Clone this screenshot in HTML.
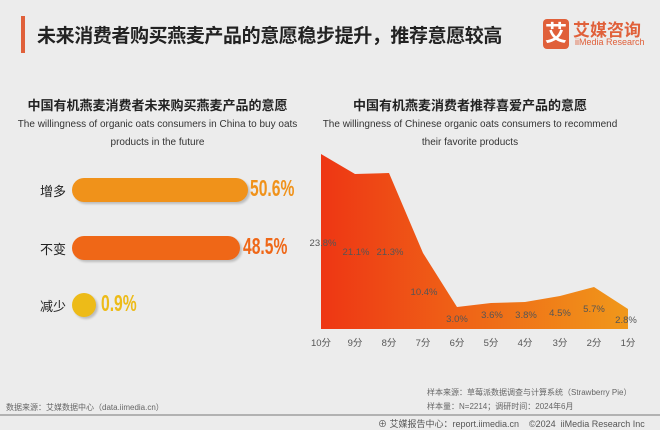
<!DOCTYPE html>
<html><head><meta charset="utf-8"><style>
body{margin:0;width:660px;height:430px;background:#ececec;font-family:"Liberation Sans","Noto Sans CJK SC",sans-serif;position:relative;overflow:hidden}
.a{position:absolute;white-space:nowrap}
.bar{position:absolute;left:72px;height:24px;border-radius:12px;box-shadow:2px 2px 2px rgba(0,0,0,.2)}
.pct{position:absolute;font-family:"Liberation Sans Narrow","Liberation Sans",sans-serif;font-weight:bold;font-size:23px;transform:scaleX(.68);transform-origin:left}
</style></head><body>
<div class="a" style="left:21px;top:16px;width:4px;height:37px;background:#e0603a"></div>
<div class="a" style="left:37px;top:21px;font-size:19px;letter-spacing:-0.4px;font-weight:bold;color:#222">未来消费者购买燕麦产品的意愿稳步提升，推荐意愿较高</div>
<div class="a" style="left:543px;top:19px;width:26px;height:30px;background:#e0603a;border-radius:4px;color:#fff;font-size:22px;font-weight:bold;text-align:center;line-height:30px">艾</div>
<div class="a" style="left:573px;top:16px;font-size:17px;font-weight:bold;color:#e0603a">艾媒咨询</div>
<div class="a" style="left:575px;top:37px;font-size:9px;color:#e0603a">iiMedia Research</div>

<div class="a" style="left:0;width:315px;text-align:center;top:95px;font-size:13px;font-weight:bold;color:#222">中国有机燕麦消费者未来购买燕麦产品的意愿</div>
<div class="a" style="left:0;width:315px;text-align:center;top:116px;font-size:10px;color:#333;line-height:18px">The willingness of organic oats consumers in China to buy oats<br>products in the future</div>
<div class="a" style="left:320px;width:300px;text-align:center;top:95px;font-size:13px;font-weight:bold;color:#222">中国有机燕麦消费者推荐喜爱产品的意愿</div>
<div class="a" style="left:320px;width:300px;text-align:center;top:116px;font-size:10px;color:#333;line-height:18px">The willingness of Chinese organic oats consumers to recommend<br>their favorite products</div>

<div class="a" style="left:40px;top:181px;font-size:13px;color:#222">增多</div>
<div class="bar" style="top:178px;width:176px;background:#f0921a"></div>
<div class="pct" style="left:250px;top:175px;color:#f0921a">50.6%</div>
<div class="a" style="left:40px;top:239px;font-size:13px;color:#222">不变</div>
<div class="bar" style="top:236px;width:168px;background:#ef6717"></div>
<div class="pct" style="left:243px;top:233px;color:#ef6717">48.5%</div>
<div class="a" style="left:40px;top:296px;font-size:13px;color:#222">减少</div>
<div class="bar" style="top:293px;width:24px;background:#edbb18"></div>
<div class="pct" style="left:101px;top:290px;color:#edbb18">0.9%</div>

<svg class="a" style="left:0;top:0" width="660" height="430">
<defs><linearGradient id="g" x1="0" x2="1"><stop offset="0" stop-color="#ee3614"/><stop offset="1" stop-color="#f0981a"/></linearGradient></defs>
<polygon fill="url(#g)" points="321,329 321,154 355,174 389,173 423,253 457,307 491,303 525,302 560,296 594,287 628,309 628,329"/>
<g font-size="9.5" fill="#555" font-family="Liberation Sans,sans-serif" text-anchor="middle">
<text x="323" y="246">23.8%</text><text x="356" y="255">21.1%</text><text x="390" y="255">21.3%</text><text x="424" y="295">10.4%</text><text x="457" y="322">3.0%</text><text x="492" y="318">3.6%</text><text x="526" y="318">3.8%</text><text x="560" y="316">4.5%</text><text x="594" y="312">5.7%</text><text x="626" y="323">2.8%</text>
<text x="321" y="346">10分</text><text x="355" y="346">9分</text><text x="389" y="346">8分</text><text x="423" y="346">7分</text><text x="457" y="346">6分</text><text x="491" y="346">5分</text><text x="525" y="346">4分</text><text x="560" y="346">3分</text><text x="594" y="346">2分</text><text x="628" y="346">1分</text>
</g>
<line x1="0" y1="415" x2="660" y2="415" stroke="#777" stroke-width="1"/>
</svg>
<div class="a" style="left:427px;top:387px;font-size:8px;color:#666">样本来源：草莓派数据调查与计算系统（Strawberry Pie）</div>
<div class="a" style="left:427px;top:401px;font-size:8px;color:#666">样本量：N=2214；调研时间：2024年6月</div>
<div class="a" style="left:6px;top:402px;font-size:8px;color:#666">数据来源：艾媒数据中心（data.iimedia.cn）</div>
<div class="a" style="left:378px;top:417px;font-size:9px;color:#555">⊕ 艾媒报告中心：report.iimedia.cn &nbsp;&nbsp; ©2024 &nbsp;iiMedia Research Inc</div>
</body></html>
